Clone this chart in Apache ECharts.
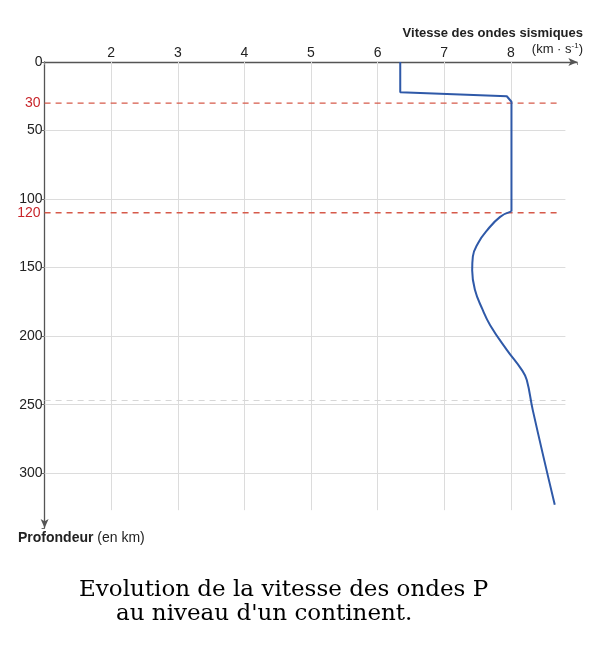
<!DOCTYPE html>
<html>
<head>
<meta charset="utf-8">
<script src="https://cdn.jsdelivr.net/npm/echarts@6/dist/echarts.min.js"></script>
<style>
  html, body { margin: 0; padding: 0; background: #fff; }
  #main { width: 612px; height: 650px; }
</style>
</head>
<body>
<div id="main"></div>
<script>
var myChart = echarts.init(document.getElementById('main'));

// vitesse (km/s) en fonction de la profondeur (km)
var stepDepth = [0, 22, 25, 29, 109];
var stepSpeed = [6.34, 6.34, 7.94, 8.01, 8.01];
var curveDepth = [109, 113, 123, 132, 142, 152, 166, 180, 192, 210, 225, 232, 254, 323];
var curveSpeed = [8.01, 7.84, 7.64, 7.51, 7.43, 7.42, 7.46, 7.57, 7.69, 7.94, 8.17, 8.24, 8.33, 8.66];

// discontinuités (position tracée) et leur libellé
var limitDepth = [30, 110];
var limitLabel = ['30', '120'];

var gridDepth = [50, 100, 150, 200, 250, 300];
var gridSpeed = [2, 3, 4, 5, 6, 7, 8];
var faintDepth = 247;

function pairs(xs, ys) {
    return xs.map(function (x, i) { return [x, ys[i]]; });
}

var gridLines = [];
gridDepth.forEach(function (d) {
    gridLines.push([{ coord: [1, d] }, { coord: [8.82, d] }]);
});
gridSpeed.forEach(function (v) {
    gridLines.push([{ coord: [v, 0] }, { coord: [v, 327] }]);
});

var red = '#d65a4a';
var limitSeries = limitDepth.map(function (d, i) {
    return {
        name: 'limite ' + limitLabel[i],
        type: 'line',
        silent: true,
        z: 3,
        symbol: 'circle',
        symbolSize: 0,
        showSymbol: true,
        lineStyle: { color: red, type: [6, 5], width: 1.3 },
        itemStyle: { color: red },
        data: [
            {
                value: [1, d],
                label: {
                    show: true,
                    position: 'left',
                    distance: 4,
                    formatter: limitLabel[i],
                    color: '#c8262b',
                    fontFamily: 'Liberation Sans',
                    fontSize: 14
                }
            },
            [8.75, d]
        ]
    };
});

option = {
    animation: false,
    grid: { left: 44.6, right: 34.6, top: 62, bottom: 122 },
    xAxis: {
        type: 'value',
        position: 'top',
        min: 1,
        max: 9,
        interval: 1,
        axisLine: {
            lineStyle: { color: '#555', width: 1.3 },
            symbol: ['none', 'arrow'],
            symbolSize: [6, 9]
        },
        axisTick: { show: true, inside: true, length: 3, lineStyle: { color: '#888' } },
        axisLabel: {
            margin: 2,
            color: '#222',
            fontFamily: 'Liberation Sans',
            fontSize: 14,
            formatter: function (v) { return (v >= 2 && v <= 8) ? v : ''; }
        },
        splitLine: { show: false }
    },
    yAxis: {
        type: 'value',
        inverse: true,
        min: 0,
        max: 340,
        interval: 50,
        axisLine: {
            lineStyle: { color: '#555', width: 1.3 },
            symbol: ['arrow', 'none'],
            symbolSize: [6, 9]
        },
        axisTick: { show: true, length: 3, lineStyle: { color: '#666' } },
        axisLabel: {
            margin: 2,
            color: '#222',
            fontFamily: 'Liberation Sans',
            fontSize: 14,
            formatter: function (v) { return v <= 300 ? v : ''; }
        },
        splitLine: { show: false }
    },
    graphic: [
        {
            type: 'text', right: 29, top: 27,
            style: {
                text: 'Vitesse des ondes sismiques',
                font: 'bold 13px "Liberation Sans"', fill: '#222'
            }
        },
        {
            type: 'text', right: 29, top: 42,
            style: {
                text: '(km · s{sup|-1})',
                font: '13px "Liberation Sans"', fill: '#222',
                rich: { sup: { fontSize: 8, verticalAlign: 'top', padding: [0, 0, 6, 0], fill: '#222' } }
            }
        },
        {
            type: 'text', left: 18, top: 531,
            style: {
                text: '{b|Profondeur} (en km)',
                font: '14px "Liberation Sans"', fill: '#222',
                rich: { b: { fontWeight: 'bold', fontSize: 14, fontFamily: 'Liberation Sans' } }
            }
        },
        {
            type: 'text', left: 79, top: 579,
            style: {
                text: 'Evolution de la vitesse des ondes P',
                font: '23px "DejaVu Serif"', fill: '#000'
            }
        },
        {
            type: 'text', left: 116, top: 603,
            style: {
                text: "au niveau d'un continent.",
                font: '23px "DejaVu Serif"', fill: '#000'
            }
        }
    ],
    series: [
        {
            name: 'grille',
            type: 'line',
            data: [],
            silent: true,
            z: 1,
            markLine: {
                silent: true,
                z: 1,
                symbol: 'none',
                label: { show: false },
                lineStyle: { color: '#dcdcdc', type: 'solid', width: 1 },
                data: gridLines.concat([
                    [{ coord: [1, faintDepth], lineStyle: { color: '#d6d6d6', type: [6, 5] } },
                     { coord: [8.82, faintDepth] }]
                ])
            }
        }
    ].concat(limitSeries).concat([
        {
            name: 'croûte',
            type: 'line',
            z: 10,
            data: pairs(stepSpeed, stepDepth),
            showSymbol: false,
            lineStyle: { color: '#2f59a8', width: 2 }
        },
        {
            name: 'manteau',
            type: 'line',
            z: 10,
            data: pairs(curveSpeed, curveDepth),
            smooth: 0.45,
            showSymbol: false,
            lineStyle: { color: '#2f59a8', width: 2 }
        }
    ])
};

myChart.setOption(option);
</script>
</body>
</html>
